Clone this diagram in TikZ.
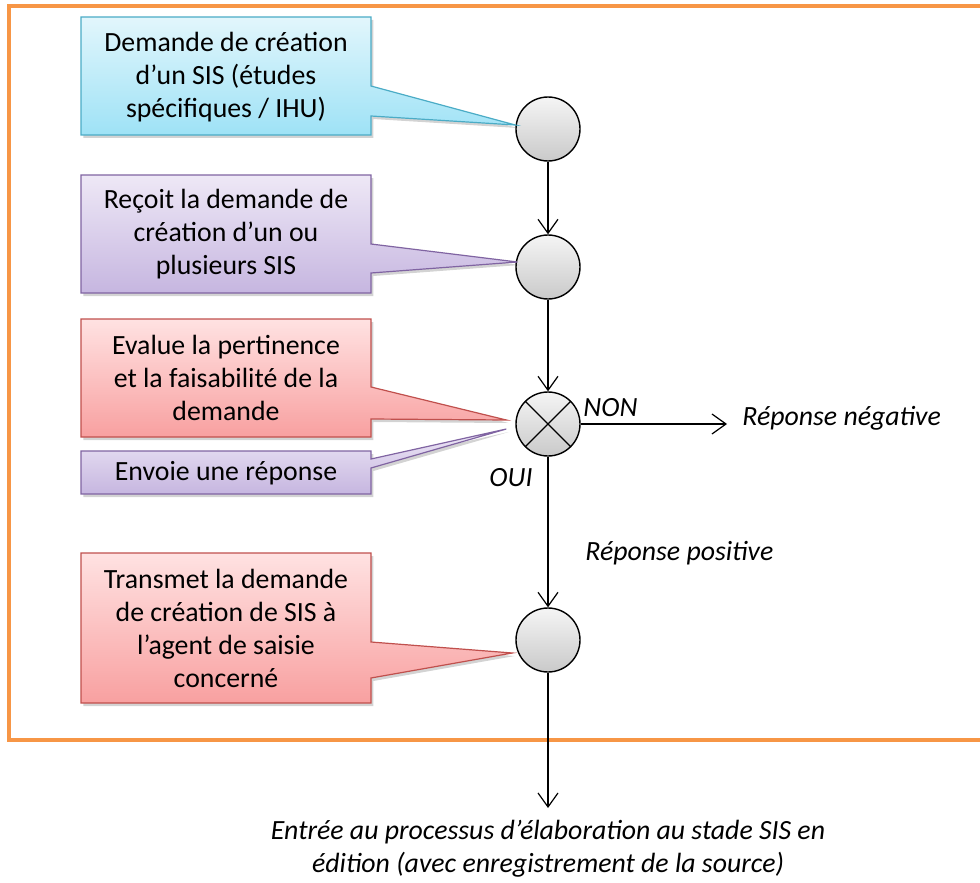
\documentclass[tikz,border=0pt]{standalone}
\usepackage{fontspec}
\setmainfont{Carlito}
\usetikzlibrary{shadows,arrows.meta}

\definecolor{cadre}{RGB}{247,150,70}
\definecolor{bordBleu}{RGB}{75,172,198}
\definecolor{hautBleu}{RGB}{226,246,252}
\definecolor{basBleu}{RGB}{158,226,246}
\definecolor{bordMauve}{RGB}{128,100,162}
\definecolor{hautMauve}{RGB}{238,232,246}
\definecolor{basMauve}{RGB}{198,182,224}
\definecolor{bordRouge}{RGB}{192,80,77}
\definecolor{hautRouge}{RGB}{255,226,226}
\definecolor{basRouge}{RGB}{248,160,160}

\tikzset{
  bulle/.style={draw, line width=0.6pt, line join=miter,
    drop shadow={shadow xshift=1.2pt, shadow yshift=-1.5pt, opacity=0.35}},
  bulleBleue/.style={bulle, draw=bordBleu, top color=hautBleu, bottom color=basBleu},
  bulleMauve/.style={bulle, draw=bordMauve, top color=hautMauve, bottom color=basMauve},
  bulleRouge/.style={bulle, draw=bordRouge, top color=hautRouge, bottom color=basRouge},
  texte/.style={align=center, inner sep=0pt, font=\fontsize{13.9}{16.5}\selectfont},
  etape/.style={circle, draw, line width=0.7pt, minimum size=32pt, inner sep=0pt,
    top color=gray!8, bottom color=gray!42},
  fleche/.style={-{Straight Barb[length=7pt,width=10pt]}, line width=0.6pt},
  etiquette/.style={font=\fontsize{13.9}{16.5}\selectfont\itshape}
}

\begin{document}
\begin{tikzpicture}[x=0.5pt,y=-0.5pt]
\useasboundingbox (0,0) rectangle (980,883);
\clip (0,0) rectangle (980,883);

% Drawing frame
\draw [cadre, line width=2pt] (9,6) rectangle (995,740);

% Marking steps by circles
\node [etape] (c1) at (548,129) {};
\node [etape] (c2) at (548,267) {};
\node [etape] (c3) at (548,424) {};
\node [etape] (c4) at (548,640) {};
\draw [line width=0.7pt] (c3.north west) -- (c3.south east);
\draw [line width=0.7pt] (c3.north east) -- (c3.south west);

% Drawing callout demande
\path [bulleBleue] (81,17) -- (371,17) -- (371,86) -- ([yshift=2pt]c1.west)
  -- (371,116) -- (371,135) -- (81,135) -- cycle;
\node [texte] (demande) at (226,77) {Demande de création\\d’un SIS (études\\spécifiques / IHU)};

% Drawing callout recoit
\path [bulleMauve] (81,175) -- (371,175) -- (371,244) -- ([xshift=1pt,yshift=2.5pt]c2.west)
  -- (371,273) -- (371,293) -- (81,293) -- cycle;
\node [texte] (recoit) at (226,234) {Reçoit la demande de\\création d’un ou\\plusieurs SIS};

% Drawing callout evalue
\path [bulleRouge] (81,319) -- (371,319) -- (371,387) -- ([xshift=-4.5pt,yshift=2pt]c3.west)
  -- (371,419) -- (371,437) -- (81,437) -- cycle;
\node [texte] (evalue) at (226,378) {Evalue la pertinence\\et la faisabilité de la\\demande};

% Drawing callout envoie
\path [bulleMauve] (81,451) -- (371,451) -- (371,459) -- ([xshift=-4.5pt,yshift=-2.5pt]c3.west)
  -- (371,468) -- (371,494) -- (81,494) -- cycle;
\node [texte] (envoie) at (226,473) {Envoie une réponse};

% Drawing callout transmet
\path [bulleRouge] (81,553) -- (371,553) -- (371,642) -- ([xshift=-1.5pt,yshift=-6.5pt]c4.west)
  -- (371,678) -- (371,703) -- (81,703) -- cycle;
\node [texte] (transmet) at (226,628) {Transmet la demande\\de création de SIS à\\l’agent de saisie\\concerné};

% Drawing lines between steps
\coordinate (neg) at (727,424);
\coordinate (fin) at (548,808);
\draw [fleche] (c1) -- (c2);
\draw [fleche] (c2) -- (c3);
\draw [fleche] (c3) -- (neg);
\draw [fleche] (c3) -- (c4);
\draw [fleche] (c4) -- (fin);

% Marking labels
\node [etiquette, anchor=west, inner sep=0pt] (non) at (583,408) {NON};
\node [etiquette] (oui) at (511,478) {OUI};
\node [etiquette, anchor=west, inner sep=0pt] (negative) at (742,418) {Réponse négative};
\node [etiquette, anchor=west, inner sep=0pt] (positive) at (585,553) {Réponse positive};
\node [etiquette, align=center] (entree) at (548,849)
  {Entrée au processus d’élaboration au stade SIS en\\édition (avec enregistrement de la source)};
\end{tikzpicture}
\end{document}
